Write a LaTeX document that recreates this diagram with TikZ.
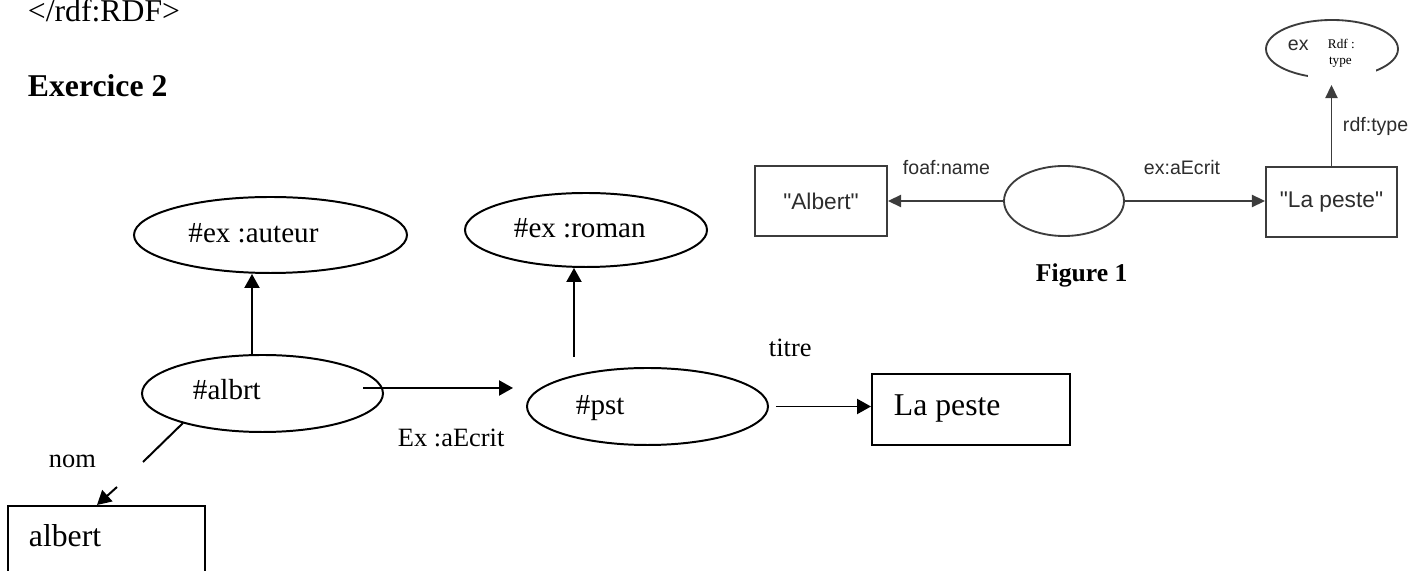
\documentclass[tikz,border=0pt]{standalone}
\usepackage{fontspec}
\setmainfont{Liberation Serif}
\newfontfamily\sansf{Liberation Sans}
\usetikzlibrary{arrows.meta,shapes.geometric}
\newdimen\pxu \pxu=0.3785pt
\definecolor{figgray}{RGB}{60,60,60}
\definecolor{figtext}{RGB}{45,45,45}
\begin{document}
\begin{tikzpicture}[x=0.3785pt, y=-0.3785pt, line width=0.75pt,
  ell/.style={ellipse, draw, inner sep=0pt},
  rbox/.style={rectangle, draw, inner sep=0pt},
  txt/.style={inner sep=0pt, anchor=base west, font=\fontsize{12}{14}\selectfont},
  lbl/.style={inner sep=0pt, anchor=base west, font=\fontsize{10}{12}\selectfont},
  etxt/.style={inner sep=0pt, anchor=base west, font=\fontsize{11}{13}\selectfont},
  arr/.style={-{Triangle[length=5.3pt,width=5.7pt]}},
  fbox/.style={rectangle, draw=figgray, line width=0.7pt, inner sep=0pt, text=figtext, font=\sansf\fontsize{8.6}{10}\selectfont},
  fell/.style={ellipse, draw=figgray, line width=0.7pt, inner sep=0pt},
  farr/.style={draw=figgray, line width=0.7pt, -{Triangle[length=5pt,width=4.6pt]}},
  ftxt/.style={inner sep=0pt, anchor=base west, text=figtext, font=\sansf\fontsize{7.4}{9}\selectfont},
  stxt/.style={inner sep=0pt, anchor=base west, font=\fontsize{5}{6}\selectfont}
]
\useasboundingbox (0,0) rectangle (1426,571);
\clip (0,0) rectangle (1426,571);

% heading texts
\node[txt] (rdf) at (27,21.7) {</rdf:RDF>};
\node[txt, font=\bfseries\fontsize{12}{14}\selectfont] (exo) at (27,96.7) {Exercice 2};

% main graph
\node[ell, minimum width=273*\pxu, minimum height=76*\pxu] (auteur) at (270.5,235) {};
\node[etxt] (t-auteur) at (187.5,243) {\#ex :auteur};
\node[ell, minimum width=242*\pxu, minimum height=74*\pxu] (roman) at (586,230) {};
\node[etxt] (t-roman) at (513,238) {\#ex :roman};
\node[ell, minimum width=241*\pxu, minimum height=77*\pxu] (albrt) at (262.5,393.5) {};
\node[etxt] (t-albrt) at (192,400) {\#albrt};
\node[ell, minimum width=241*\pxu, minimum height=77*\pxu] (pst) at (647.5,406.5) {};
\node[etxt] (t-pst) at (575,415) {\#pst};
\node[rbox, minimum width=198*\pxu, minimum height=71*\pxu] (lapeste) at (971,409.5) {};
\node[txt] (t-lapeste) at (893,416) {La peste};
\node[rbox, minimum width=197*\pxu, minimum height=108*\pxu] (albert) at (106.5,560) {};
\node[txt] (t-albert) at (28,547) {albert};

\node[lbl] (l-titre) at (768,357) {titre};
\node[lbl] (l-ecrit) at (397,447) {Ex :aEcrit};
\node[lbl] (l-nom) at (48,468) {nom};

\coordinate (xa) at (252,0);
\coordinate (rs) at (574,357);
\coordinate (a1) at (363,388);
\coordinate (a2) at (513,388);
\coordinate (n0) at (183,423);
\coordinate (n1) at (143,462);
\coordinate (n2) at (117,487);
\coordinate (n3) at (97,0);

\draw[arr] (albrt.north -| xa) -- (auteur.south -| xa);
\draw[arr] (rs) -- (roman.south -| rs);
\draw[arr] (a1) -- (a2);
\draw[arr, shorten <=7*\pxu] (pst.east) -- (pst.east -| lapeste.west);
\draw (n0) -- (n1);
\draw[arr] (n2) -- (albert.north -| n3);

% Figure 1
\node[fbox, minimum width=132*\pxu, minimum height=70*\pxu] (albox) at (821,201) {"Albert"};
\node[fell, minimum width=120*\pxu, minimum height=70*\pxu] (fe) at (1064,201) {};
\node[fbox, minimum width=131*\pxu, minimum height=70*\pxu] (lpbox) at (1331.5,202) {"La peste"};
\node[fell, minimum width=132*\pxu, minimum height=58*\pxu] (exell) at (1332,49) {};
\fill[white] (1308,30) rectangle (1376,81);
\node[ftxt] (t-ex) at (1287,51) {ex};
\node[stxt] (t-rdf1) at (1327,49) {Rdf :};
\node[stxt] (t-rdf2) at (1328,65) {type};

\node[ftxt] (l-foaf) at (902,175) {foaf:name};
\node[ftxt] (l-aecrit) at (1143,175) {ex:aEcrit};
\node[ftxt] (l-type) at (1342,132) {rdf:type};
\node[inner sep=0pt, anchor=base west, font=\bfseries\fontsize{9.7}{11}\selectfont] (fig1) at (1035,282) {Figure 1};

\draw[farr] (fe.west) -- (albox.east);
\draw[farr] (fe.east) -- (fe.east -| lpbox.west);
\draw[farr, shorten >=6*\pxu] (lpbox.north) -- (lpbox.north |- exell.south);
\end{tikzpicture}
\end{document}
